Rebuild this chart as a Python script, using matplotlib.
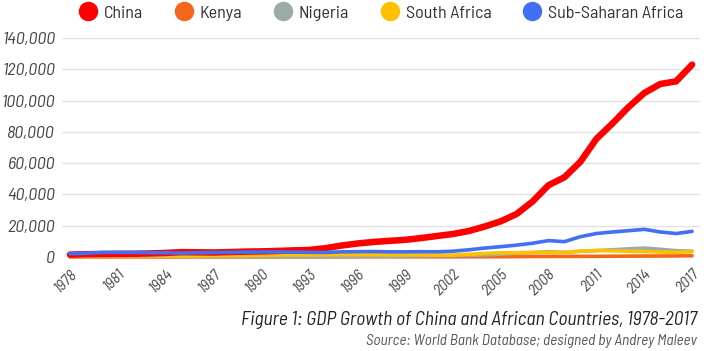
import matplotlib
matplotlib.use('Agg')
import numpy as np
import matplotlib.pyplot as plt
from matplotlib.lines import Line2D
from matplotlib.transforms import ScaledTranslation

# GDP, hundred million USD
years = list(range(1978, 2018))

china = [1500, 1780, 1910, 1960, 2050, 2300, 2600, 3100, 3000, 2900, 3150, 3450,
         3600, 3850, 4250, 4500, 5600, 7300, 8600, 9600, 10300, 10950, 12100, 13400,
         14700, 16600, 19500, 22800, 27500, 35500, 45900, 51000, 60900, 75500, 85300,
         95700, 104800, 110600, 112300, 123000]

kenya = [60, 70, 75, 70, 65, 60, 60, 60, 70, 75, 80, 80, 85, 80, 80, 60, 70, 90,
         120, 130, 140, 130, 130, 130, 130, 150, 160, 190, 250, 320, 360, 370, 400,
         420, 500, 550, 610, 640, 700, 790]

nigeria = [360, 470, 640, 650, 560, 500, 450, 450, 300, 300, 300, 300, 300, 280,
           300, 280, 350, 450, 500, 550, 550, 600, 700, 750, 950, 1050, 1350, 1800,
           2400, 2800, 3400, 2950, 3700, 4100, 4600, 5200, 5700, 4950, 4050, 3750]

south_africa = [480, 580, 820, 850, 750, 850, 750, 580, 650, 850, 930, 950, 1150,
                1250, 1350, 1350, 1400, 1550, 1480, 1530, 1380, 1360, 1360, 1200,
                1150, 1750, 2300, 2600, 2700, 2900, 2850, 2950, 3750, 4150, 3950,
                3650, 3500, 3200, 2950, 3500]

ssa = [2100, 2400, 2900, 3000, 2900, 2800, 2700, 2500, 2700, 2900, 3000, 3100,
       3200, 3200, 3100, 3000, 2900, 3300, 3400, 3500, 3300, 3300, 3400, 3300,
       3700, 4600, 5700, 6600, 7600, 8800, 10500, 9800, 13000, 15000, 16000,
       16800, 17700, 16000, 15000, 16400]

names = ['China', 'Kenya', 'Nigeria', 'South Africa', 'Sub-Saharan Africa']
colors = ['#ff0000', '#f4661b', '#9aaba8', '#ffc000', '#4270f4']

plt.rcParams['font.family'] = ['Barlow Semi Condensed', 'Barlow Condensed',
                               'Roboto Condensed', 'Archivo Narrow', 'DejaVu Sans']

fig = plt.figure(figsize=(7.1, 3.51), dpi=100)
ax = fig.add_axes([0.0873, 0.2678, 0.8987, 0.6239])

series = [china, kenya, nigeria, south_africa, ssa]
widths = [4.7, 2.6, 2.6, 2.6, 2.6]
zorders = [5, 2, 3, 4, 6]
for s, c, w, z in zip(series, colors, widths, zorders):
    ax.plot(years, s, color=c, lw=w, solid_capstyle='round', solid_joinstyle='round',
            zorder=z, clip_on=False)

ax.set_xlim(1977.5, 2017.5)
ax.set_ylim(0, 140000)
ax.set_yticks(np.arange(0, 140001, 20000))
ax.set_yticklabels(['{:,}'.format(v) for v in range(0, 140001, 20000)],
                   fontsize=13, style='italic', color='#444444')
ax.set_xticks(years[::3])
ax.set_xticklabels([str(y) for y in years[::3]], rotation=45, ha='right',
                   rotation_mode='anchor', fontsize=11.5, style='italic', color='#444444')
shift = ScaledTranslation(6 / 100, 0, fig.dpi_scale_trans)
for lbl in ax.get_xticklabels():
    lbl.set_transform(lbl.get_transform() + shift)
ax.tick_params(length=0, pad=5)
ax.tick_params(axis='x', pad=7)
ax.grid(axis='y', color='#e3e3e3', lw=1)
ax.set_axisbelow(True)
for sp in ax.spines.values():
    sp.set_visible(False)

handles = [Line2D([], [], ls='none', marker='o', ms=13, color=c) for c in colors]
fig.legend(handles, names, loc='center', bbox_to_anchor=(0.537, 0.963), ncol=5,
           frameon=False, fontsize=13, handlelength=1.0, handletextpad=0.35,
           columnspacing=1.78, labelcolor='#333333')

fig.text(0.982, 0.088, 'Figure 1: GDP Growth of China and African Countries, 1978-2017',
         ha='right', va='center', fontsize=14, style='italic', color='#222222')
fig.text(0.982, 0.028, 'Source: World Bank Database; designed by Andrey Maleev',
         ha='right', va='center', fontsize=11, style='italic', color='#555555')

fig.savefig('out.png', dpi=100, facecolor='white')
